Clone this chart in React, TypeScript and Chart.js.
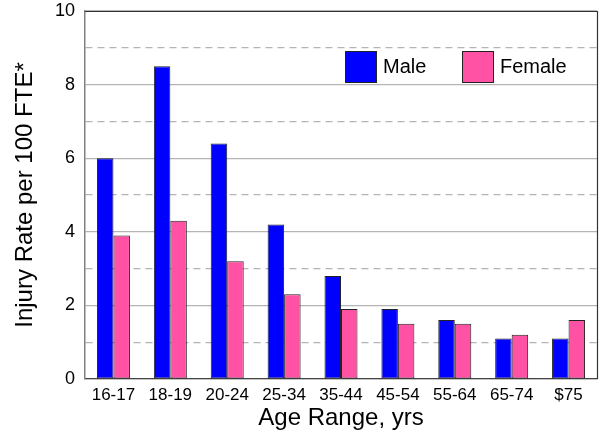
import React, { useEffect, useRef } from 'react';
import { Chart, registerables } from 'chart.js';

Chart.register(...registerables);

const categories = ['16-17', '18-19', '20-24', '25-34', '35-44', '45-54', '55-64', '65-74', '$75'];
const maleRates = [6.0, 8.5, 6.4, 4.2, 2.8, 1.9, 1.6, 1.1, 1.1];
const femaleRates = [3.9, 4.3, 3.2, 2.3, 1.9, 1.5, 1.5, 1.2, 1.6];
const seriesNames = ['Male', 'Female'];
const yMin = 0;
const yMax = 10;
const yStep = 1;
const yTitle = 'Injury Rate per 100 FTE*';
const xTitle = 'Age Range, yrs';

const FONT = "'Liberation Sans', Arial, sans-serif";

const framePlugin = {
  id: 'frame',
  afterDatasetsDraw(chart: any) {
    const { ctx, chartArea } = chart;
    ctx.save();
    ctx.strokeStyle = '#333333';
    ctx.lineWidth = 1.2;
    ctx.beginPath();
    ctx.moveTo(chartArea.left, chartArea.top + 0.5);
    ctx.lineTo(chartArea.right + 0.5, chartArea.top + 0.5);
    ctx.lineTo(chartArea.right + 0.5, chartArea.bottom);
    ctx.stroke();
    ctx.restore();
  },
};

const legendPlugin = {
  id: 'insideLegend',
  afterDraw(chart: any) {
    const { ctx, chartArea } = chart;
    const offsets = [260, 377];
    const boxSize = 32;
    const top = chartArea.top + 40;
    ctx.save();
    chart.data.datasets.forEach((ds: any, i: number) => {
      const x = chartArea.left + offsets[i];
      ctx.fillStyle = ds.backgroundColor;
      ctx.fillRect(x, top, boxSize, boxSize);
      ctx.strokeStyle = '#222222';
      ctx.lineWidth = 1;
      ctx.strokeRect(x + 0.5, top + 0.5, boxSize - 1, boxSize - 1);
      ctx.fillStyle = '#000000';
      ctx.font = `20px ${FONT}`;
      ctx.textAlign = 'left';
      ctx.textBaseline = 'middle';
      ctx.fillText(ds.label, x + boxSize + 6, top + boxSize / 2);
    });
    ctx.restore();
  },
};

export default function App() {
  const canvasRef = useRef<HTMLCanvasElement | null>(null);

  useEffect(() => {
    document.body.style.margin = '0';
    const canvas = canvasRef.current;
    if (!canvas) return;
    const chart = new Chart(canvas, {
      type: 'bar',
      data: {
        labels: categories,
        datasets: [
          {
            label: seriesNames[0],
            data: maleRates,
            backgroundColor: '#0000ff',
            borderColor: '#222222',
            borderWidth: 1,
            borderSkipped: false,
            categoryPercentage: 0.58,
            barPercentage: 1.0,
          },
          {
            label: seriesNames[1],
            data: femaleRates,
            backgroundColor: '#ff52a5',
            borderColor: '#222222',
            borderWidth: 1,
            borderSkipped: false,
            categoryPercentage: 0.58,
            barPercentage: 1.0,
          },
        ],
      },
      options: {
        responsive: false,
        animation: false,
        devicePixelRatio: 1,
        layout: { padding: { top: 11, right: 9, left: 0, bottom: 0 } },
        plugins: {
          legend: { display: false },
          tooltip: { enabled: false },
        },
        scales: {
          x: {
            grid: { display: false, drawTicks: false },
            border: { display: true, color: '#444444', width: 1.2 },
            ticks: {
              color: '#000000',
              font: { family: FONT, size: 17 },
              padding: 6,
              autoSkip: false,
              maxRotation: 0,
            },
            title: {
              display: true,
              text: xTitle,
              color: '#000000',
              font: { family: FONT, size: 24 },
              padding: { top: 0, bottom: 0 },
            },
            afterFit(scale: any) {
              scale.height = 54;
              scale.paddingLeft = 0;
              scale.paddingRight = 0;
            },
          },
          y: {
            min: yMin,
            max: yMax,
            grid: {
              drawTicks: false,
              color: '#b4b4b4',
              lineWidth: 1.2,
            },
            border: {
              display: true,
              color: '#808080',
              width: 1.5,
              dash: (ctx: any) => (ctx.tick && Math.round(ctx.tick.value) % 2 === 1 ? [7, 5] : []),
            },
            ticks: {
              stepSize: yStep,
              autoSkip: false,
              color: '#000000',
              font: { family: FONT, size: 18 },
              padding: 10,
              callback: (v: any) => (Math.round(Number(v)) % 2 === 0 ? String(v) : ''),
            },
            title: {
              display: true,
              text: yTitle,
              color: '#000000',
              font: { family: FONT, size: 24 },
              padding: { top: 11, bottom: 0 },
            },
            afterFit(scale: any) {
              scale.width = 85;
              scale.paddingTop = 0;
              scale.paddingBottom = 0;
            },
          },
        },
      },
      plugins: [framePlugin, legendPlugin],
    } as any);
    return () => chart.destroy();
  }, []);

  return (
    <div style={{ width: 606, height: 433 }}>
      <canvas ref={canvasRef} width={606} height={433} style={{ display: 'block' }} />
    </div>
  );
}
